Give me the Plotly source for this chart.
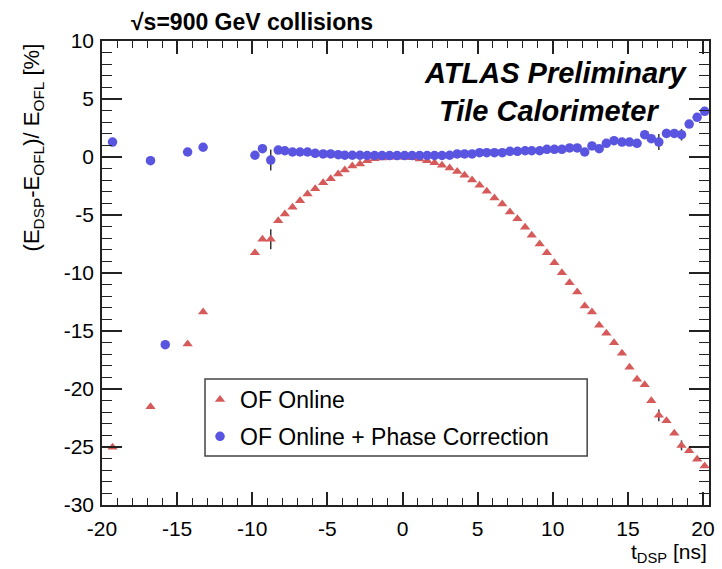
import plotly.graph_objects as go

# ---------------- data ----------------
t_online = [-19.30, -16.77, -14.30, -13.27,
            -9.82, -9.32, -8.77, -8.27, -7.83, -7.32, -6.82, -6.32, -5.81, -5.28,
            -4.78, -4.28, -3.84, -3.34, -2.83, -2.35, -1.86, -1.36, -0.86, -0.36,
            0.14, 0.64, 1.14, 1.64, 2.13, 2.63, 3.14, 3.64, 4.13, 4.63,
            5.13, 5.61, 6.12, 6.64, 7.15, 7.65, 8.16, 8.60, 9.13, 9.61,
            10.11, 10.61, 11.12, 11.63, 12.13, 12.61, 13.09, 13.57, 14.08, 14.61,
            15.11, 15.61, 16.12, 16.56, 17.06, 17.57, 18.09, 18.57, 19.08, 19.61,
            20.11]
e_online = [-25.03, -21.53, -16.12, -13.36,
            -8.25, -7.09, -7.09, -5.49, -4.91, -4.34, -3.77, -3.19, -2.73, -2.22,
            -1.87, -1.47, -1.12, -0.78, -0.60, -0.32, -0.15, -0.08, -0.03, 0.00,
            -0.02, -0.07, -0.17, -0.32, -0.49, -0.72, -0.95, -1.24, -1.58, -1.98,
            -2.44, -2.96, -3.53, -4.05, -4.74, -5.32, -6.06, -6.75, -7.50, -8.25,
            -9.11, -9.97, -10.84, -11.64, -12.84, -13.36, -14.51, -15.20, -16.01, -16.92,
            -18.13, -19.16, -19.63, -21.01, -22.27, -22.73, -23.82, -24.86, -25.32, -26.06,
            -26.64]
err_online = [0, 0, 0, 0,
              0, 0, 0.86, 0, 0, 0, 0, 0, 0, 0,
              0, 0, 0, 0, 0, 0, 0, 0, 0, 0,
              0, 0, 0, 0, 0, 0, 0, 0, 0, 0,
              0, 0, 0, 0, 0, 0, 0, 0, 0, 0,
              0, 0, 0, 0, 0, 0, 0, 0, 0, 0,
              0, 0, 0, 0, 0.50, 0, 0, 0.43, 0, 0,
              0]

t_phase = [-19.30, -16.77, -15.79, -14.30, -13.27,
           -9.82, -9.32, -8.77, -8.27, -7.83, -7.32, -6.82, -6.32, -5.81, -5.28,
           -4.78, -4.28, -3.84, -3.34, -2.83, -2.35, -1.86, -1.36, -0.86, -0.36,
           0.14, 0.64, 1.14, 1.64, 2.13, 2.63, 3.14, 3.64, 4.13, 4.63,
           5.13, 5.61, 6.12, 6.64, 7.15, 7.65, 8.16, 8.60, 9.13, 9.61,
           10.11, 10.61, 11.12, 11.63, 12.13, 12.61, 13.09, 13.57, 14.08, 14.61,
           15.11, 15.61, 16.12, 16.56, 17.06, 17.57, 18.09, 18.57, 19.08, 19.61,
           20.11]
e_phase = [1.29, -0.32, -16.18, 0.43, 0.84,
           0.15, 0.72, -0.26, 0.60, 0.54, 0.43, 0.43, 0.43, 0.32, 0.26,
           0.26, 0.20, 0.15, 0.15, 0.15, 0.13, 0.13, 0.12, 0.12, 0.12,
           0.12, 0.12, 0.13, 0.13, 0.13, 0.13, 0.15, 0.26, 0.26, 0.26,
           0.37, 0.37, 0.37, 0.37, 0.49, 0.49, 0.54, 0.54, 0.54, 0.66,
           0.66, 0.66, 0.78, 0.78, 0.43, 0.95, 0.72, 1.18, 1.41, 1.29,
           1.29, 1.18, 1.92, 1.58, 1.29, 2.03, 2.03, 1.92, 2.84, 3.42,
           3.94]
err_phase = [0, 0, 0, 0, 0,
             0, 0, 0.90, 0, 0, 0, 0, 0, 0, 0,
             0, 0, 0, 0, 0, 0, 0, 0, 0, 0,
             0, 0, 0, 0, 0, 0, 0, 0, 0, 0,
             0, 0, 0, 0, 0, 0, 0, 0, 0, 0,
             0, 0, 0, 0, 0, 0, 0, 0, 0, 0,
             0, 0, 0, 0, 0.69, 0.40, 0, 0.50, 0.30, 0.30,
             0.30]

x_tickvals = [-20, -15, -10, -5, 0, 5, 10, 15, 20]
x_ticktext = ["-20", "-15", "-10", "-5", "0", "5", "10", "15", "20"]
y_tickvals = [-30, -25, -20, -15, -10, -5, 0, 5, 10]
y_ticktext = ["-30", "-25", "-20", "-15", "-10", "-5", "0", "5", "10"]

name_online = "OF Online"
name_phase = "OF Online + Phase Correction"

# ---------------- figure ----------------
FONT = "Liberation Sans, Arial, Helvetica, sans-serif"
RED = "#d65a5a"
BLUE = "#5a55e0"
AX = "#222222"

fig = go.Figure()
fig.add_trace(go.Scatter(
    x=t_online, y=e_online, mode="markers", name=name_online,
    legendgroup="a",
    marker=dict(symbol="triangle-up", size=9, color=RED),
    error_y=dict(type="data", array=err_online, visible=True, width=0,
                 thickness=1.5, color="#333333"),
))
fig.add_trace(go.Scatter(
    x=t_phase, y=e_phase, mode="markers", name=name_phase,
    legendgroup="b",
    marker=dict(symbol="circle", size=9.5, color=BLUE),
    error_y=dict(type="data", array=err_phase, visible=True, width=0,
                 thickness=1.5, color="#333333"),
))

fig.update_layout(
    width=722, height=569,
    margin=dict(l=102, r=7, t=41, b=64),
    paper_bgcolor="white", plot_bgcolor="white",
    font=dict(family=FONT, size=21, color="black"),
    showlegend=True,
    legend=dict(
        x=0.1615, y=0.2737, xanchor="left", yanchor="top",
        bgcolor="rgba(0,0,0,0)", borderwidth=0,
        font=dict(family=FONT, size=23, color="black"),
        traceorder="grouped", tracegroupgap=4,
    ),
    xaxis=dict(
        range=[-20, 20.4], showgrid=False, zeroline=False,
        showline=True, linecolor=AX, linewidth=1.5, mirror="ticks",
        ticks="inside", ticklen=13, tickwidth=1.5, tickcolor=AX,
        tickvals=x_tickvals, ticktext=x_ticktext,
        tickfont=dict(family=FONT, size=21, color="black"),
        ticklabelstandoff=4,
        minor=dict(dtick=1, ticks="inside", ticklen=7, tickwidth=1.2,
                   tickcolor=AX, showgrid=False),
    ),
    yaxis=dict(
        range=[-30, 10], showgrid=False, zeroline=False,
        showline=True, linecolor=AX, linewidth=1.5, mirror="ticks",
        ticks="inside", ticklen=20, tickwidth=1.5, tickcolor=AX,
        tickvals=y_tickvals, ticktext=y_ticktext,
        tickfont=dict(family=FONT, size=21, color="black"),
        ticklabelstandoff=2,
        minor=dict(dtick=1, ticks="inside", ticklen=10, tickwidth=1.2,
                   tickcolor=AX, showgrid=False),
    ),
)

# legend box (ROOT style)
fig.add_shape(type="rect", xref="paper", yref="paper",
              x0=0.1697, x1=0.7993, y0=0.1056, y1=0.2716,
              line=dict(color="#444444", width=1.5),
              fillcolor="white", layer="above")

# axis titles (ROOT style: aligned to the axis ends)
fig.add_annotation(
    text="(E<sub>DSP</sub>-E<sub>OFL</sub>)/ E<sub>OFL</sub> [%]",
    xref="paper", yref="paper", x=-0.113, y=1.0,
    xanchor="center", yanchor="top", textangle=-90, showarrow=False,
    font=dict(family=FONT, size=22, color="black"),
)
fig.add_annotation(
    text="t<sub>DSP</sub> [ns]",
    xref="paper", yref="paper", x=1.0, y=-0.103,
    xanchor="right", yanchor="middle", showarrow=False,
    font=dict(family=FONT, size=21, color="black"),
)
# title
fig.add_annotation(
    text="<b>√s=900 GeV collisions</b>",
    xref="paper", yref="paper", x=0.045, y=1.041,
    xanchor="left", yanchor="middle", showarrow=False,
    font=dict(family=FONT, size=23, color="black"),
)
fig.add_annotation(
    text="<b><i>ATLAS Preliminary</i></b>",
    xref="paper", yref="paper", x=0.747, y=0.931,
    xanchor="center", yanchor="middle", showarrow=False,
    font=dict(family=FONT, size=29, color="black"),
)
fig.add_annotation(
    text="<b><i>Tile Calorimeter</i></b>",
    xref="paper", yref="paper", x=0.737, y=0.849,
    xanchor="center", yanchor="middle", showarrow=False,
    font=dict(family=FONT, size=29, color="black"),
)

fig.write_html(
    "out.html",
    config={"displayModeBar": False},
    post_script="document.body.style.margin='0';document.body.style.overflow='hidden';",
)
